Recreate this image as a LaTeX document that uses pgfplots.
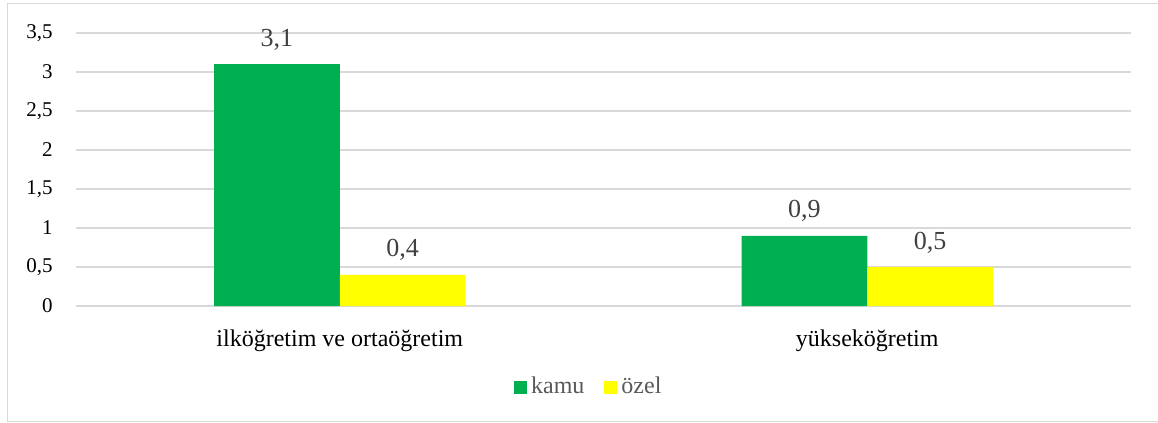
\documentclass[border=0pt]{standalone}
\usepackage{fontspec}
\setmainfont{Liberation Serif}
\usepackage{pgfplots}
\pgfplotsset{compat=1.18}
\definecolor{kamu}{HTML}{00B050}
\definecolor{ozel}{HTML}{FFFF00}
\definecolor{gridgray}{HTML}{D9D9D9}
\definecolor{lblgray}{HTML}{404040}
\definecolor{leggray}{HTML}{595959}
\begin{document}
\begin{tikzpicture}
% 1 px of the reference = 0.5pt, origin at the top left corner
\useasboundingbox (0,0) rectangle (579pt,-211.5pt);
\draw[gridgray, line width=0.6pt] (3.75pt,-1.75pt) rectangle (590pt,-210.6pt);
\begin{axis}[
  at={(38pt,-153pt)}, anchor=south west,
  scale only axis,
  width=527.5pt, height=136.5pt,
  ybar=0pt,
  bar width=0.238,
  xmin=-0.5, xmax=1.5,
  ymin=0, ymax=3.5,
  xtick={0,1},
  xticklabels={ilköğretim ve ortaöğretim, yükseköğretim},
  ytick={0,0.5,1,1.5,2,2.5,3,3.5},
  yticklabel={\pgfmathprintnumber{\tick}},
  major tick length=0pt,
  axis line style={draw=none},
  ymajorgrids,
  grid style={gridgray, line width=0.75pt},
  /pgf/number format/use comma,
  /pgf/number format/assume math mode=true,
  yticklabel style={font=\fontsize{10.5}{12}\selectfont, anchor=east, inner sep=0pt, xshift=-11.5pt},
  xticklabel style={font=\fontsize{12}{14}\selectfont, anchor=base, inner sep=0pt, yshift=-20pt},
  nodes near coords,
  nodes near coords style={font=\fontsize{13}{15}\selectfont, text=lblgray},
  every node near coord/.append style={anchor=base, inner sep=0pt, yshift=9pt},
  legend columns=2,
  legend style={at={(0.487,-0.297)}, anchor=center, draw=none, fill=none,
    font=\fontsize{12}{14}\selectfont, text=leggray,
    /tikz/every even column/.append style={column sep=8pt}},
  legend image code/.code={\fill[#1] (0pt,-3.25pt) rectangle (6.5pt,3.25pt);},
]
  \addplot[fill=kamu, draw=none] coordinates {(0,3.1) (1,0.9)};
  \addplot[fill=ozel, draw=none] coordinates {(0,0.4) (1,0.5)};
  \legend{kamu, özel}
\end{axis}
\end{tikzpicture}
\end{document}
